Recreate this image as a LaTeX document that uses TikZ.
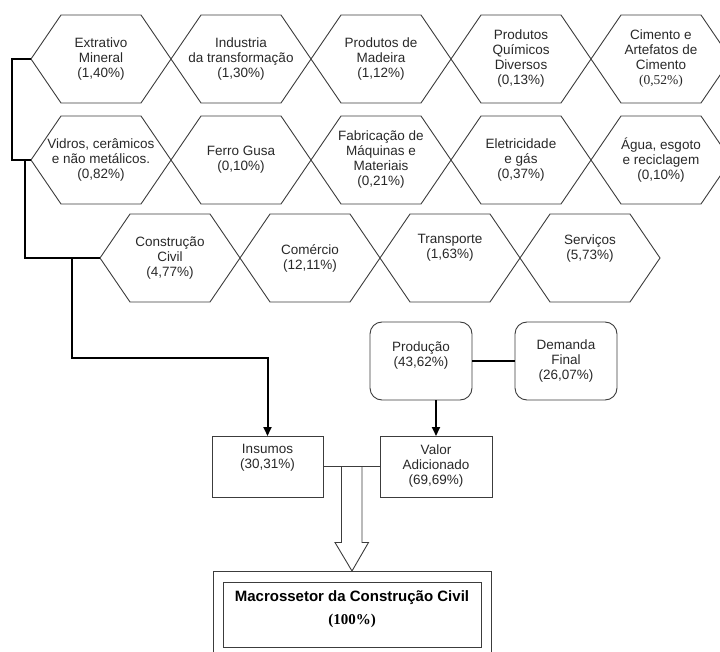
\documentclass[tikz,border=0pt]{standalone}
\usepackage{fontspec}
\setmainfont{Liberation Sans}
\newfontfamily\timesnum{Liberation Serif}
\usetikzlibrary{arrows.meta,positioning,calc}
\definecolor{inkgray}{RGB}{60,60,60}
\definecolor{textgray}{RGB}{40,40,40}
\tikzset{
  hexa/.style={rectangle,inner sep=0pt,outer sep=0pt,align=center,text=textgray,
    font=\fontsize{13.5}{15}\selectfont},
  hexline/.style={draw=inkgray,line width=0.9pt},
  flowbox/.style={rectangle,draw=inkgray,line width=0.9pt,align=center,
    text=textgray,inner sep=0pt,outer sep=0pt,font=\fontsize{13.5}{15}\selectfont},
  roundbox/.style={flowbox,rounded corners=12pt},
  link/.style={line width=2pt,draw=black},
  arr/.style={link,-{Triangle[length=9pt,width=8pt]}},
  hollow/.style={line width=0.9pt,draw=inkgray}
}

\begin{document}
\begin{tikzpicture}[x=1pt,y=-1pt]
  \useasboundingbox (0,0) rectangle (720,652);

  % sectors, first row
  \node[hexa] (s1) at (101,59) {Extrativo\\Mineral\\(1,40\%)};
  \node[hexa] (s2) at (241,59) {Industria\\da transformação\\(1,30\%)};
  \node[hexa] (s3) at (381,59) {Produtos de\\Madeira\\(1,12\%)};
  \node[hexa] (s4) at (521,59) {Produtos\\Químicos\\Diversos\\(0,13\%)};
  \node[hexa] (s5) at (661,59) {Cimento e\\Artefatos de\\Cimento\\{\timesnum (0,52\%)}};

  % second row
  \node[hexa] (v1) at (101,160) {Vidros, cerâmicos\\e não metálicos.\\(0,82\%)};
  \node[hexa] (v2) at (241,160) {Ferro Gusa\\(0,10\%)};
  \node[hexa] (v3) at (381,160) {Fabricação de\\Máquinas e\\Materiais\\(0,21\%)};
  \node[hexa] (v4) at (521,160) {Eletricidade\\e gás\\(0,37\%)};
  \node[hexa] (v5) at (661,160) {Água, esgoto\\e reciclagem\\(0,10\%)};

  % third row
  \node[hexa] (c1) at (170,258) {Construção\\Civil\\(4,77\%)};
  \node[hexa] (c2) at (310,258) {Comércio\\(12,11\%)};
  \node[hexa] (c3) at (450,258) {Transporte\\(1,63\%)\\[9pt]\mbox{}};
  \node[hexa] (c4) at (590,258) {Serviços\\(5,73\%)\\[6pt]\mbox{}};

  % hexagon outlines and their left tips
  \foreach \h in {s1,s2,s3,s4,s5,v1,v2,v3,v4,v5,c1,c2,c3,c4}{
    \draw[hexline] ($(\h)+(-70,0)$) -- ++(30,-44) -- ++(80,0) -- ++(30,44)
      -- ++(-30,44) -- ++(-80,0) -- cycle;
    \coordinate (\h-tip) at ($(\h)+(-70,0)$);
  }

  % production side
  \node[roundbox,minimum width=102pt,minimum height=78pt] (prod) at (421,361)
    {Produção\\(43,62\%)\\[-2pt]\mbox{}};
  \node[roundbox,minimum width=102pt,minimum height=78pt] (dem) at (566,361)
    {Demanda\\Final\\(26,07\%)};

  \node[flowbox,minimum width=111pt,minimum height=61pt] (ins) at (267.5,466.5)
    {Insumos\\(30,31\%)\\[6pt]\mbox{}};
  \node[flowbox,minimum width=112pt,minimum height=61pt] (val) at (436,466.5)
    {Valor\\Adicionado\\(69,69\%)};

  % macrosector
  \node[flowbox,minimum width=278pt,minimum height=109pt] (macroframe) at (352,625.5) {};
  \node[flowbox,minimum width=258pt,minimum height=65pt,text=black] (macro) at (352,614.5)
    {\fontsize{15}{15}\selectfont\bfseries Macrossetor da Construção Civil\\[8pt]
     {\timesnum\fontsize{15}{15}\selectfont\bfseries (100\%)}\\[-1pt]\mbox{}};

  % connectors
  \draw[link] (s1-tip) -- ++(-19,0) |- (v1-tip);
  \draw[link] (v1-tip) ++(-6,0) |- (c1-tip);
  \draw[arr] (c1-tip) ++(-28,0) -- ++(0,100) -| (ins.north);
  \draw[link] (prod.east) -- (dem.west);
  \draw[arr] (val.north |- prod.south) -- (val.north);
  \draw[hollow] (ins.east) -- (val.west);

  \coordinate (split) at ($(ins.east)!.5!(val.west)$);
  \draw[hollow] (split) ++(-10,0) -- ++(0,76) -- ++(-6.5,0) -- (macroframe.north)
    -- ++(16.5,-28.5) -- ++(-6.5,0) -- ++(0,-76);
\end{tikzpicture}
\end{document}
